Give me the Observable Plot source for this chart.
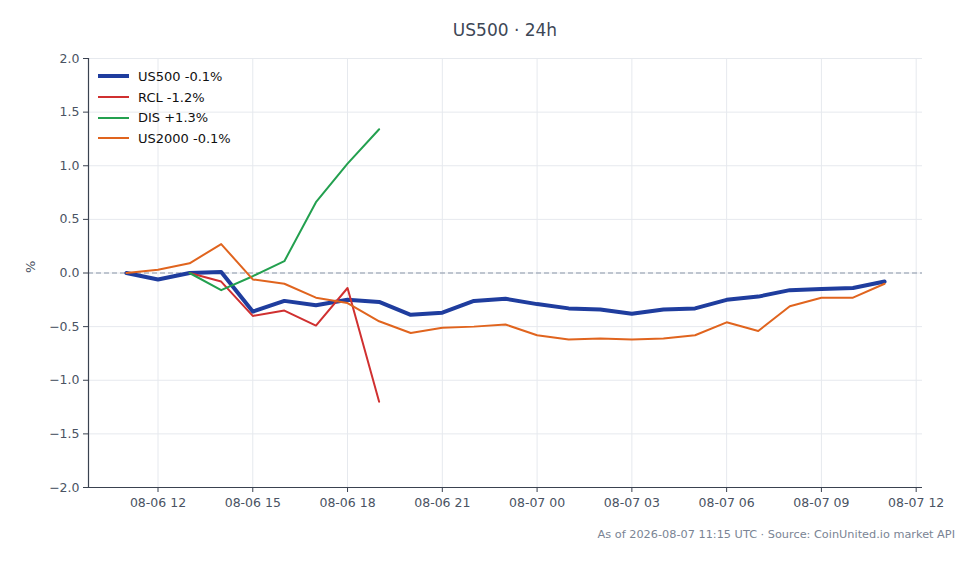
<!DOCTYPE html>
<html>
<head>
<meta charset="utf-8">
<script src="https://cdn.jsdelivr.net/npm/d3@7"></script>
<script src="https://cdn.jsdelivr.net/npm/@observablehq/plot@0.6"></script>
<style>
  body { margin: 0; background: #fff; font-family: "DejaVu Sans", sans-serif; }
  #wrap { position: relative; width: 979px; height: 564px; }
  #title { height: 50px; line-height: 60px; text-align: center; font-size: 17px; color: #3d4756; padding-left: 31px; box-sizing: border-box; }
  #caption { position: absolute; top: 528px; right: 24px; font-size: 11.3px; color: #7a8494; }
  #legend { position: absolute; left: 98px; top: 66px; font-size: 13px; color: #111; }
  #legend .row { display: flex; align-items: center; height: 20.7px; }
  #legend .sw { width: 31px; margin-right: 9px; }
</style>
</head>
<body>
<div id="wrap">
  <div id="title">US500 · 24h</div>
  <div id="chart"></div>
  <div id="legend"></div>
  <div id="caption">As of 2026-08-07 11:15 UTC · Source: CoinUnited.io market API</div>
</div>
<script>
const hours = ["2026-08-06T11","2026-08-06T12","2026-08-06T13","2026-08-06T14","2026-08-06T15","2026-08-06T16","2026-08-06T17","2026-08-06T18","2026-08-06T19","2026-08-06T20","2026-08-06T21","2026-08-06T22","2026-08-06T23","2026-08-07T00","2026-08-07T01","2026-08-07T02","2026-08-07T03","2026-08-07T04","2026-08-07T05","2026-08-07T06","2026-08-07T07","2026-08-07T08","2026-08-07T09","2026-08-07T10","2026-08-07T11"];
const us500  = [0, -0.06, 0, 0.01, -0.36, -0.26, -0.30, -0.25, -0.27, -0.39, -0.37, -0.26, -0.24, -0.29, -0.33, -0.34, -0.38, -0.34, -0.33, -0.25, -0.22, -0.16, -0.15, -0.14, -0.08];
// stock series start at the 13:00 bar
const stockStart = 2;
const rcl    = [0, -0.08, -0.40, -0.35, -0.49, -0.14, -1.20];
const dis    = [0, -0.16, -0.03, 0.11, 0.66, 1.02, 1.34];
const us2000 = [0, 0.03, 0.09, 0.27, -0.06, -0.10, -0.23, -0.28, -0.45, -0.56, -0.51, -0.50, -0.48, -0.58, -0.62, -0.61, -0.62, -0.61, -0.58, -0.46, -0.54, -0.31, -0.23, -0.23, -0.10];
const seriesNames = ["US500", "RCL", "DIS", "US2000"];
const seriesLabels = ["US500 -0.1%", "RCL -1.2%", "DIS +1.3%", "US2000 -0.1%"];
const seriesColors = ["#1f3d9e", "#d03030", "#23a04f", "#e0641e"];
const seriesWidths = [4, 2, 2, 2];
const yTicks = [-2.0, -1.5, -1.0, -0.5, 0.0, 0.5, 1.0, 1.5, 2.0];

const parse = s => new Date(s + ":00:00Z");
const values = [us500, rcl, dis, us2000];
const offsets = [0, stockStart, stockStart, 0];
const rows = [];
values.forEach((arr, i) => arr.forEach((v, j) => rows.push({series: seriesNames[i], t: parse(hours[j + offsets[i]]), v})));

const t0 = parse(hours[0]), t1 = parse(hours[hours.length - 1]);
const pad = (t1 - t0) * 0.05;
const xDomain = [new Date(+t0 - pad), new Date(+t1 + pad)];
const xTicks = d3.utcHour.every(3).range(xDomain[0], new Date(+xDomain[1] + 1));

const fmt = d3.utcFormat("%m-%d %H");

const plot = Plot.plot({
  width: 979,
  height: 470,
  marginTop: 8,
  marginBottom: 33,
  marginLeft: 88,
  marginRight: 57,
  style: { fontFamily: "DejaVu Sans, sans-serif", fontSize: "12.5px", color: "#4a5363", background: "transparent" },
  x: { type: "utc", domain: xDomain, ticks: xTicks, tickFormat: fmt, label: null },
  y: { domain: [-2, 2], ticks: yTicks, tickFormat: d3.format(".1f"), label: null },
  marks: [
    Plot.gridX(xTicks, { stroke: "#e6e9ee", strokeOpacity: 1, strokeWidth: 1 }),
    Plot.gridY(yTicks, { stroke: "#e6e9ee", strokeOpacity: 1, strokeWidth: 1 }),
    Plot.ruleY([0], { stroke: "#8a96a8", strokeDasharray: "5,3", strokeWidth: 1.2 }),
    ...seriesNames.map((name, i) => Plot.line(rows.filter(d => d.series === name), {
      x: "t", y: "v", stroke: seriesColors[i], strokeWidth: seriesWidths[i], strokeLinejoin: "round", strokeLinecap: "round"
    })),
    Plot.axisX({ ticks: xTicks, tickFormat: fmt, tickSize: 5, tickPadding: 6, stroke: "#3a4250", fill: "#4a5363", label: null }),
    Plot.axisY({ ticks: yTicks, tickFormat: d3.format(".1f"), tickSize: 5, tickPadding: 4, stroke: "#3a4250", fill: "#4a5363", label: null }),
    Plot.ruleX([xDomain[0]], { stroke: "#3a4250", strokeWidth: 1.2 }),
    Plot.ruleY([-2], { stroke: "#3a4250", strokeWidth: 1.2 }),
    Plot.text(["%"], { frameAnchor: "left", dx: -58, rotate: -90, fontSize: 13, fill: "#4a5363" })
  ]
});
document.getElementById("chart").appendChild(plot);

const legend = document.getElementById("legend");
seriesLabels.forEach((lab, i) => {
  const row = document.createElement("div");
  row.className = "row";
  const sw = document.createElement("div");
  sw.className = "sw";
  sw.style.borderTop = seriesWidths[i] + "px solid " + seriesColors[i];
  const tx = document.createElement("span");
  tx.textContent = lab;
  row.appendChild(sw); row.appendChild(tx);
  legend.appendChild(row);
});
</script>
</body>
</html>
